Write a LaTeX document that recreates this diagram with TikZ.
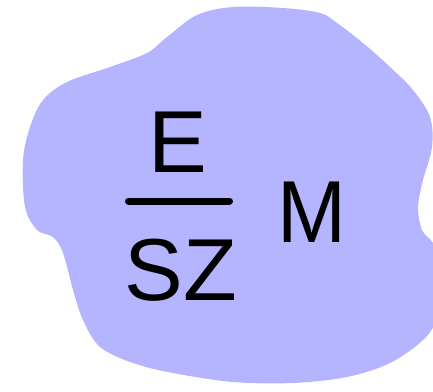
\documentclass[tikz,border=0pt]{standalone}
\usepackage{fontspec}
\setmainfont{Liberation Sans}
\definecolor{blobblue}{RGB}{180,180,255}

\begin{document}
\begin{tikzpicture}[x=1pt, y=-1pt,
    letter/.style={anchor=base, inner sep=0pt, font=\fontsize{88}{100}\selectfont}]

% Ramka obrazka
\useasboundingbox (0,0) rectangle (433,391);
\clip (0,0) rectangle (433,391);

% Plama (tlo)
\fill[blobblue] plot[smooth cycle, tension=0.55] coordinates {
    (233,7) (197,15) (167,37) (147,53) (110,67) (67,82) (43,100) (30,127)
    (23,160) (25,207) (37,230) (53,237) (63,253) (73,290) (83,320) (100,347)
    (133,363) (173,373) (233,382) (293,383) (347,377) (390,363) (423,340)
    (437,317) (443,267) (433,243) (422,230) (418,207) (423,180) (432,147)
    (430,117) (413,90) (390,67) (363,43) (337,23) (320,13) (283,8)};

% Ulamek
\node[letter] (num) at (178,172) {E};
\node[letter] (den) at (181,300) {SZ};
\coordinate (barl) at (128.5,201);
\coordinate (barr) at (229.5,201);
\draw[line width=7pt, line cap=round] (barl) -- (barr); % Kreska ulamkowa

% Litera obok
\node[letter, xscale=0.94] (mass) at (311.5,242) {M};
\end{tikzpicture}
\end{document}
